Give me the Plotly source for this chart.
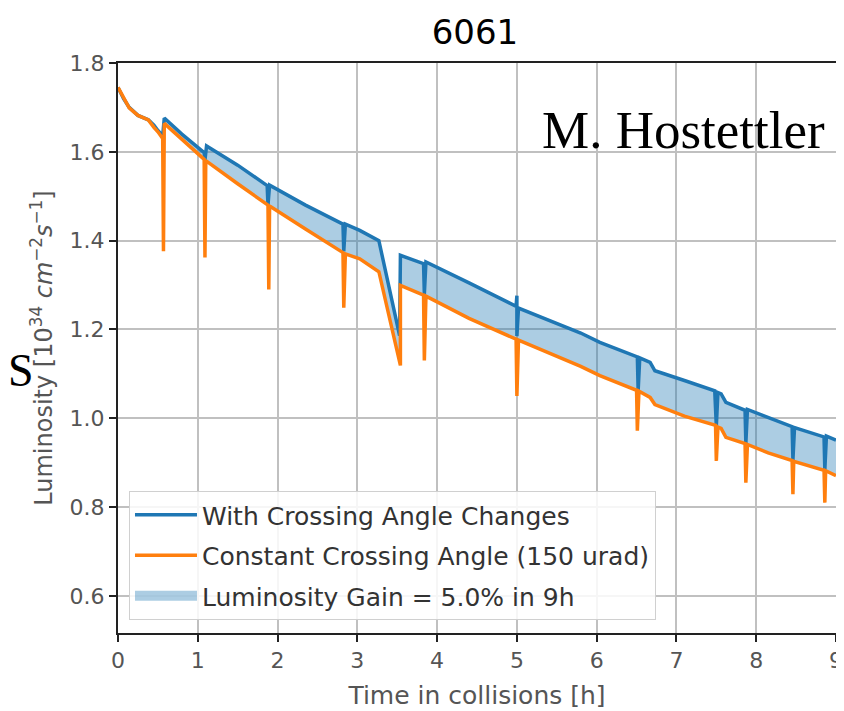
import plotly.graph_objects as go

# ---- data ----
title_text = "6061"

# With crossing angle changes (blue)
t_with = [0.00, 0.07, 0.14, 0.25, 0.38, 0.45, 0.50, 0.56, 0.58, 0.80, 1.08, 1.09, 1.11,
          1.50, 1.87, 1.88, 1.90, 2.35, 2.82, 2.83, 2.85, 3.03, 3.27, 3.53, 3.54, 3.83,
          3.84, 3.86, 4.40, 4.99, 5.00, 5.00, 5.02, 5.80, 6.04, 6.51, 6.52, 6.54, 6.67,
          6.73, 7.10, 7.48, 7.50, 7.52, 7.56, 7.62, 7.86, 7.87, 7.89, 8.15, 8.45, 8.46,
          8.48, 8.85, 8.86, 8.88, 9.00]
lumi_with = [1.745, 1.720, 1.700, 1.682, 1.672, 1.660, 1.648, 1.636, 1.676, 1.640, 1.598, 1.582, 1.613,
             1.570, 1.524, 1.480, 1.525, 1.480, 1.437, 1.376, 1.437, 1.423, 1.400, 1.186, 1.367, 1.348,
             1.280, 1.352, 1.305, 1.252, 1.276, 1.185, 1.248, 1.192, 1.171, 1.138, 1.062, 1.136, 1.126,
             1.107, 1.085, 1.062, 0.983, 1.058, 1.055, 1.036, 1.018, 0.944, 1.020, 1.002, 0.981, 0.906,
             0.979, 0.958, 0.884, 0.960, 0.951]

# Constant crossing angle, 150 urad (orange)
t_const = [0.00, 0.07, 0.14, 0.25, 0.38, 0.45, 0.50, 0.56, 0.57, 0.58, 0.80, 1.08, 1.09, 1.10,
           1.50, 1.88, 1.89, 1.90, 2.35, 2.82, 2.83, 2.85, 3.03, 3.27, 3.54, 3.54, 3.83, 3.84,
           3.86, 4.40, 4.99, 5.00, 5.02, 5.80, 6.04, 6.50, 6.51, 6.53, 6.67, 6.73, 7.10, 7.49,
           7.50, 7.52, 7.56, 7.62, 7.86, 7.87, 7.89, 8.15, 8.45, 8.46, 8.47, 8.85, 8.86, 8.87, 9.00]
lumi_const = [1.745, 1.720, 1.699, 1.682, 1.672, 1.655, 1.645, 1.630, 1.376, 1.664, 1.628, 1.583, 1.362, 1.580,
              1.528, 1.480, 1.290, 1.478, 1.426, 1.373, 1.249, 1.370, 1.359, 1.330, 1.119, 1.299, 1.277, 1.130,
              1.275, 1.225, 1.178, 1.050, 1.176, 1.117, 1.096, 1.063, 0.972, 1.061, 1.047, 1.031, 1.005, 0.984,
              0.904, 0.980, 0.977, 0.957, 0.943, 0.855, 0.941, 0.922, 0.905, 0.829, 0.903, 0.883, 0.810, 0.882, 0.871]

x_ticks = [0, 1, 2, 3, 4, 5, 6, 7, 8, 9]
y_ticks = [0.6, 0.8, 1.0, 1.2, 1.4, 1.6, 1.8]
y_tick_labels = ["0.6", "0.8", "1.0", "1.2", "1.4", "1.6", "1.8"]

name_with = "With Crossing Angle Changes"
name_const = "Constant Crossing Angle (150 urad)"
name_gain = "Luminosity Gain = 5.0% in 9h"

BLUE = "#1f77b4"
ORANGE = "#ff7f0e"
FILL = "rgba(31,119,180,0.37)"
FONT = "DejaVu Sans"

fig = go.Figure()
fig.add_trace(go.Scatter(x=t_const, y=lumi_const, mode="lines", line=dict(width=0, color=ORANGE),
                         showlegend=False, hoverinfo="skip"))
fig.add_trace(go.Scatter(x=t_with, y=lumi_with, mode="lines", line=dict(width=0, color=BLUE),
                         fill="tonexty", fillcolor=FILL, showlegend=False, hoverinfo="skip"))
fig.add_trace(go.Scatter(x=t_with, y=lumi_with, mode="lines", line=dict(width=3.5, color=BLUE),
                         name=name_with, legendrank=1, legendgroup="a"))
fig.add_trace(go.Scatter(x=t_const, y=lumi_const, mode="lines", line=dict(width=3.5, color=ORANGE),
                         name=name_const, legendrank=2, legendgroup="b"))
# legend entry for the shaded gain area
fig.add_trace(go.Scatter(x=[None], y=[None], mode="lines", line=dict(width=18, color=FILL),
                         name=name_gain, legendrank=3, legendgroup="c"))

axis_common = dict(showgrid=True, gridcolor="#c0c0c0", gridwidth=1.5, showline=True, mirror=True,
                   linecolor="#222222", linewidth=2, ticks="outside", ticklen=7, tickwidth=1.5,
                   tickcolor="#222222", zeroline=False, automargin=False,
                   tickfont=dict(family=FONT, size=22, color="#555555"))

fig.update_layout(
    width=836, height=703,
    margin=dict(l=110, r=8, t=55, b=78),
    paper_bgcolor="white", plot_bgcolor="white",
    title=dict(text=title_text, x=0.5586, xanchor="center", y=0.966, yanchor="middle",
               font=dict(family=FONT, size=34, color="black")),
    xaxis=dict(range=[0, 9], tickvals=x_ticks,
               title=dict(text="Time in collisions [h]", standoff=14,
                          font=dict(family=FONT, size=25, color="#555555")),
               **axis_common),
    yaxis=dict(range=[0.5165, 1.8], tickvals=y_ticks, ticktext=y_tick_labels,
               title=dict(text="Luminosity [10<sup>34</sup> <i>cm</i><sup>−2</sup><i>s</i><sup>−1</sup>]",
                          standoff=10, font=dict(family=FONT, size=24, color="#555555")),
               **axis_common),
    legend=dict(x=0.0153, y=0.0228, xanchor="left", yanchor="bottom",
                bgcolor="rgba(255,255,255,0.85)", bordercolor="#d0d0d0", borderwidth=1,
                font=dict(family=FONT, size=25, color="#333333"),
                traceorder="grouped", tracegroupgap=5, itemwidth=62),
    showlegend=True,
)

fig.add_annotation(text="M. Hostettler", xref="paper", yref="paper", x=0.5877, y=0.8825,
                   xanchor="left", yanchor="middle", showarrow=False,
                   font=dict(family="Liberation Serif", size=53, color="black"))
fig.add_annotation(text="S", xref="paper", yref="paper", x=-0.1351, y=0.4614,
                   xanchor="center", yanchor="middle", showarrow=False,
                   font=dict(family="Liberation Serif", size=46, color="black"))

fig.write_html("out.html")
